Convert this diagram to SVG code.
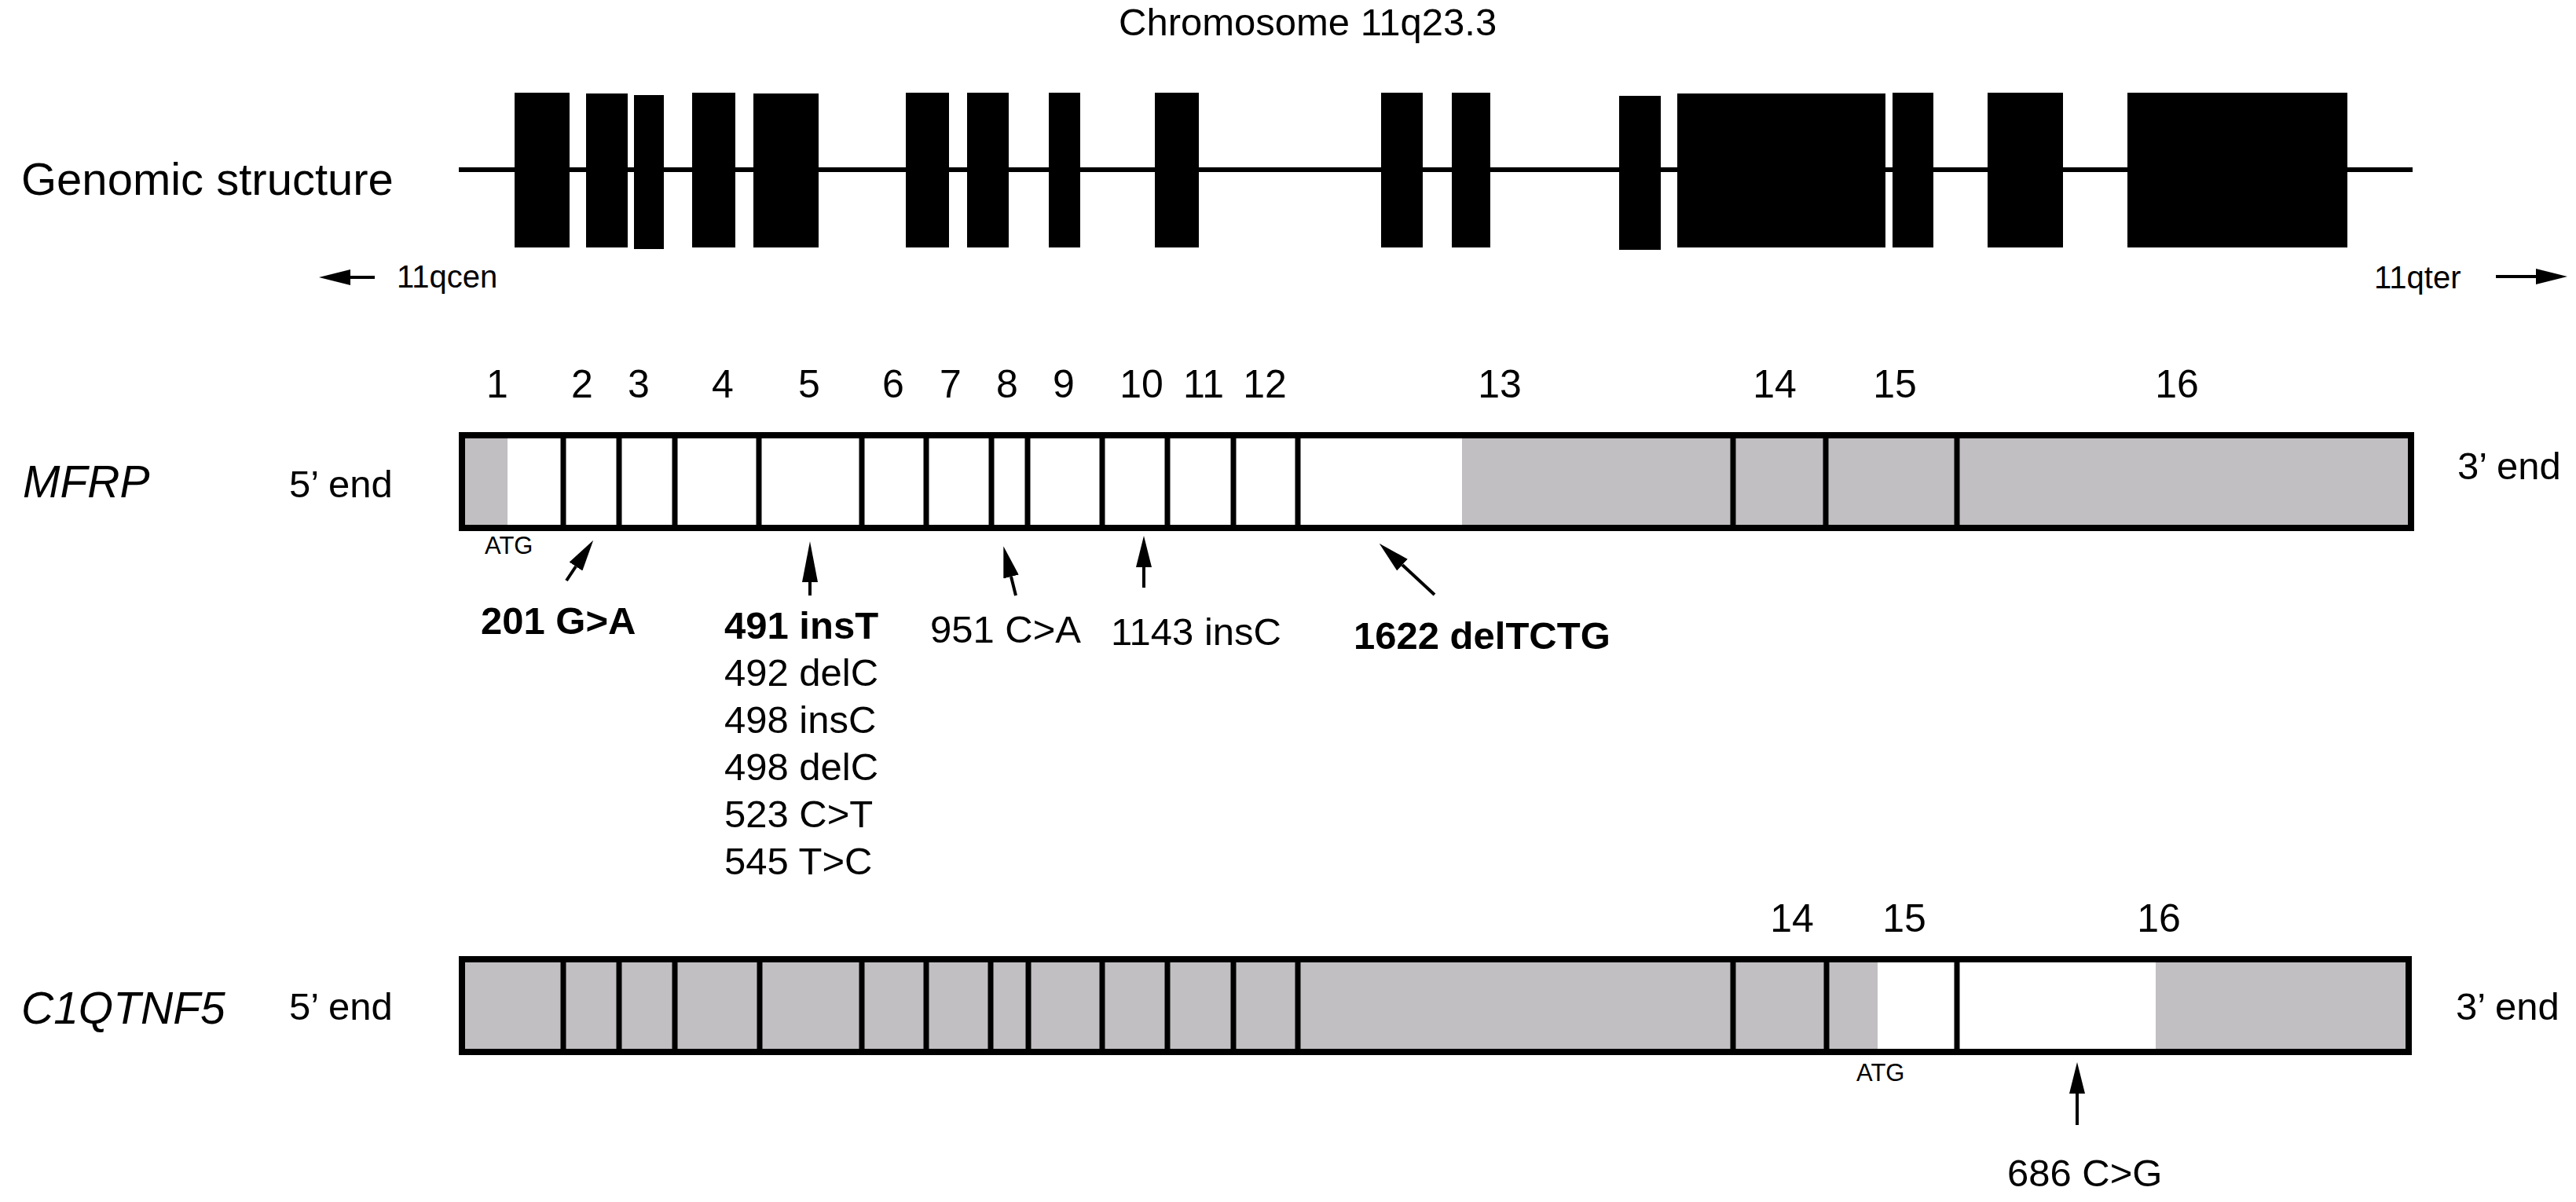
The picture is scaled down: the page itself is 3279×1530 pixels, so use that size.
<svg xmlns="http://www.w3.org/2000/svg" width="3279" height="1530" viewBox="0 0 3279 1530">
<style>
text{font-family:"Liberation Sans",Arial,sans-serif;fill:#000}
.t49{font-size:49px}
.num{font-size:50px;text-anchor:middle}
.b{font-weight:bold}
.it{font-style:italic;font-size:57px}
.atg{font-size:31px}
.exon{fill:#000}
.grey{fill:#c1bfc1}
.div{stroke:#000;stroke-width:7}
.box{fill:none;stroke:#000;stroke-width:8}
.arr{stroke:#000;stroke-width:4;fill:none}
</style>
<defs>
<marker id="ah" markerUnits="userSpaceOnUse" markerWidth="40" markerHeight="20" viewBox="0 0 40 20" refX="0" refY="10" orient="auto"><path d="M0,0 L40,10 L0,20 Z" fill="#000"/></marker>
<marker id="ahL" markerUnits="userSpaceOnUse" markerWidth="52" markerHeight="20" viewBox="0 0 52 20" refX="0" refY="10" orient="auto"><path d="M0,0 L52,10 L0,20 Z" fill="#000"/></marker>
</defs>
<rect width="3279" height="1530" fill="#fff"/>

<g id="title"><text x="1424" y="45" style="font-size:49px">Chromosome 11q23.3</text></g>

<g id="genomic">
<text x="27" y="248" style="font-size:58px">Genomic structure</text>
<line x1="584" y1="216" x2="3071" y2="216" stroke="#000" stroke-width="6"/>
<rect class="exon" x="655" y="118" width="70" height="197"/>
<rect class="exon" x="746" y="119" width="53" height="196"/>
<rect class="exon" x="807" y="121" width="38" height="196"/>
<rect class="exon" x="881" y="118" width="55" height="197"/>
<rect class="exon" x="959" y="119" width="83" height="196"/>
<rect class="exon" x="1153" y="118" width="55" height="197"/>
<rect class="exon" x="1231" y="118" width="53" height="197"/>
<rect class="exon" x="1335" y="118" width="40" height="197"/>
<rect class="exon" x="1470" y="118" width="56" height="197"/>
<rect class="exon" x="1758" y="118" width="53" height="197"/>
<rect class="exon" x="1848" y="118" width="49" height="197"/>
<rect class="exon" x="2061" y="122" width="53" height="196"/>
<rect class="exon" x="2135" y="119" width="265" height="196"/>
<rect class="exon" x="2409" y="118" width="52" height="197"/>
<rect class="exon" x="2530" y="118" width="96" height="197"/>
<rect class="exon" x="2708" y="118" width="280" height="197"/>
<text x="505" y="366" style="font-size:40px">11qcen</text>
<text x="3022" y="367" style="font-size:40px">11qter</text>
</g>

<g id="mfrp">
<text class="it" x="29" y="633">MFRP</text>
<text class="t49" x="368" y="633">5’ end</text>
<text class="t49" x="3128" y="610">3’ end</text>
<rect x="588" y="554" width="2481" height="118" fill="#fff"/>
<rect class="grey" x="588" y="554" width="58" height="118"/>
<rect class="grey" x="1861" y="554" width="1208" height="118"/>
<g class="div">
<line x1="717" y1="554" x2="717" y2="672"/><line x1="788" y1="554" x2="788" y2="672"/>
<line x1="859" y1="554" x2="859" y2="672"/><line x1="966" y1="554" x2="966" y2="672"/>
<line x1="1097" y1="554" x2="1097" y2="672"/><line x1="1179" y1="554" x2="1179" y2="672"/>
<line x1="1262" y1="554" x2="1262" y2="672"/><line x1="1308" y1="554" x2="1308" y2="672"/>
<line x1="1403" y1="554" x2="1403" y2="672"/><line x1="1486" y1="554" x2="1486" y2="672"/>
<line x1="1570" y1="554" x2="1570" y2="672"/><line x1="1652" y1="554" x2="1652" y2="672"/>
<line x1="2206" y1="554" x2="2206" y2="672"/><line x1="2324" y1="554" x2="2324" y2="672"/>
<line x1="2491" y1="554" x2="2491" y2="672"/>
</g>
<rect class="box" x="588" y="554" width="2481" height="118"/>
<g class="num">
<text x="633" y="506">1</text><text x="741" y="506">2</text><text x="813" y="506">3</text>
<text x="920" y="506">4</text><text x="1030" y="506">5</text><text x="1137" y="506">6</text>
<text x="1210" y="506">7</text><text x="1282" y="506">8</text><text x="1354" y="506">9</text>
<text x="1453" y="506">10</text><text x="1532" y="506">11</text><text x="1610" y="506">12</text>
<text x="1909" y="506">13</text><text x="2259" y="506">14</text><text x="2412" y="506">15</text>
<text x="2771" y="506">16</text>
</g>
<text class="atg" x="617" y="705">ATG</text>
</g>

<g id="mfrp-mutations">
<text class="t49 b" x="612" y="807">201 G&gt;A</text>
<text class="t49 b" x="922" y="813">491 insT</text>
<text class="t49" x="922" y="873">492 delC</text>
<text class="t49" x="922" y="933">498 insC</text>
<text class="t49" x="922" y="993">498 delC</text>
<text class="t49" x="922" y="1053">523 C&gt;T</text>
<text class="t49" x="922" y="1113">545 T&gt;C</text>
<text class="t49" x="1184" y="818">951 C&gt;A</text>
<text class="t49" x="1414" y="821">1143 insC</text>
<text class="t49 b" x="1723" y="826">1622 delTCTG</text>
</g>

<g id="c1qtnf5">
<text class="it" x="27" y="1303">C1QTNF5</text>
<text class="t49" x="368" y="1298">5’ end</text>
<text class="t49" x="3126" y="1298">3’ end</text>
<rect class="grey" x="588" y="1221" width="2478" height="118"/>
<rect x="2390" y="1221" width="354" height="118" fill="#fff"/>
<g class="div">
<line x1="717" y1="1221" x2="717" y2="1339"/><line x1="788" y1="1221" x2="788" y2="1339"/>
<line x1="859" y1="1221" x2="859" y2="1339"/><line x1="967" y1="1221" x2="967" y2="1339"/>
<line x1="1097" y1="1221" x2="1097" y2="1339"/><line x1="1179" y1="1221" x2="1179" y2="1339"/>
<line x1="1261" y1="1221" x2="1261" y2="1339"/><line x1="1309" y1="1221" x2="1309" y2="1339"/>
<line x1="1403" y1="1221" x2="1403" y2="1339"/><line x1="1486" y1="1221" x2="1486" y2="1339"/>
<line x1="1570" y1="1221" x2="1570" y2="1339"/><line x1="1652" y1="1221" x2="1652" y2="1339"/>
<line x1="2206" y1="1221" x2="2206" y2="1339"/><line x1="2325" y1="1221" x2="2325" y2="1339"/>
<line x1="2491" y1="1221" x2="2491" y2="1339"/>
</g>
<rect class="box" x="588" y="1221" width="2478" height="118"/>
<g class="num">
<text x="2281" y="1186">14</text><text x="2424" y="1186">15</text><text x="2748" y="1186">16</text>
</g>
<text class="atg" x="2363" y="1376">ATG</text>
<text class="t49" x="2555" y="1510">686 C&gt;G</text>
</g>

<g id="connectors">
<line class="arr" x1="477" y1="353" x2="446" y2="353" stroke-width="5" marker-end="url(#ah)"/>
<line class="arr" x1="3177" y1="352" x2="3228" y2="352" stroke-width="5" marker-end="url(#ah)"/>
<line class="arr" x1="721" y1="739" x2="733" y2="721" marker-end="url(#ah)"/>
<line class="arr" x1="1031" y1="758" x2="1031" y2="741" marker-end="url(#ahL)"/>
<line class="arr" x1="1293" y1="758" x2="1287" y2="734" marker-end="url(#ah)"/>
<line class="arr" x1="1456" y1="748" x2="1456" y2="722" marker-end="url(#ah)"/>
<line class="arr" x1="1826" y1="757" x2="1785" y2="719" marker-end="url(#ah)"/>
<line class="arr" x1="2644" y1="1432" x2="2644" y2="1392" marker-end="url(#ah)"/>
</g>
</svg>
